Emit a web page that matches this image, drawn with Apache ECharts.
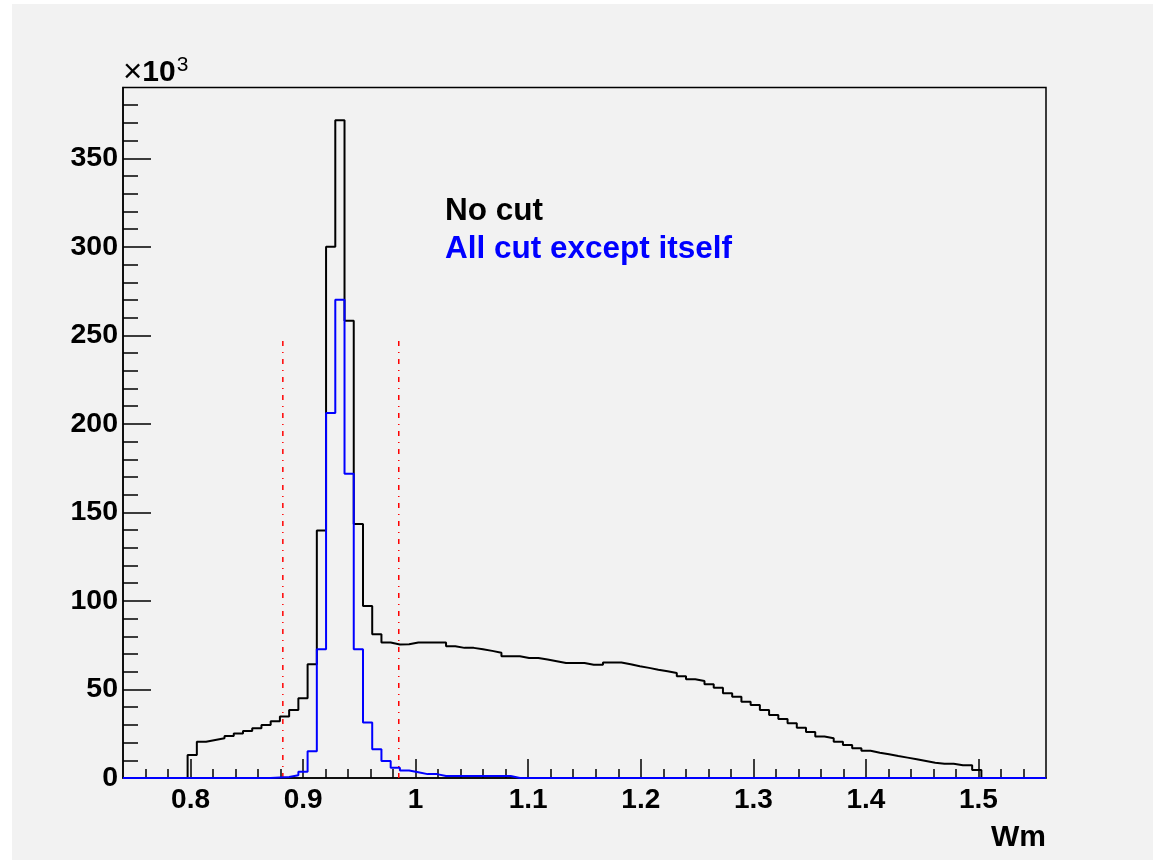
<!DOCTYPE html>
<html>
<head>
<meta charset="utf-8">
<script src="https://cdn.jsdelivr.net/npm/echarts@6/dist/echarts.min.js"></script>
<style>
  html, body { margin: 0; padding: 0; background: #ffffff; }
  #bg { position: absolute; left: 12px; top: 4px; width: 1141px; height: 856px; background: #f2f2f2; }
  #chart { position: absolute; left: 0; top: 0; width: 1153px; height: 860px; }
</style>
</head>
<body>
<div id="bg"></div>
<div id="chart"></div>
<script>
// ---- Histogram binning (100 bins) ----
const HIST_MIN = 0.74;
const HIST_MAX = 1.56;
const BIN_WIDTH = 0.0082;

// ---- Bin contents (x10^3 entries) ----
const noCut = [
  0, 0, 0, 0, 0, 0, 0, 13.0, 20.5, 21.5,
  22.4, 23.7, 25.2, 26.6, 28.1, 30.0, 32.0, 34.8, 38.4, 45.0,
  64.2, 139.8, 300.0, 371.5, 258.3, 143.5, 97.2, 81.2, 76.5, 75.4,
  75.5, 76.5, 76.5, 76.5, 76.5, 74.4, 73.5, 73.5, 72.7, 71.8,
  70.8, 68.8, 68.8, 67.8, 67.8, 66.9, 66.0, 65.0, 65.0, 65.0,
  64.0, 64.0, 65.2, 65.2, 64.2, 63.1, 62.2, 61.2, 60.3, 59.3,
  57.5, 55.8, 54.8, 52.9, 51.0, 47.8, 45.9, 43.1, 41.3, 38.4,
  35.6, 33.3, 30.9, 28.4, 26.0, 23.4, 22.4, 20.5, 18.6, 16.8,
  15.4, 14.3, 13.4, 12.4, 11.5, 10.6, 9.6, 8.6, 8.1, 8.1,
  7.2, 7.2, 4.5, 0, 0, 0, 0, 0, 0, 0
];
const allCutExceptItself = [
  0, 0, 0, 0, 0, 0, 0, 0, 0, 0,
  0, 0, 0, 0, 0, 0, 0.3, 0.6, 1.5, 3.6,
  15.1, 72.7, 206.1, 270.1, 171.8, 72.7, 31.3, 16.2, 9.6, 5.8,
  4.2, 3.3, 2.2, 2.2, 1.1, 1.1, 1.1, 1.1, 1.1, 1.1,
  1.1, 1.1, 0, 0, 0, 0, 0, 0, 0, 0,
  0, 0, 0, 0, 0, 0, 0, 0, 0, 0,
  0, 0, 0, 0, 0, 0, 0, 0, 0, 0,
  0, 0, 0, 0, 0, 0, 0, 0, 0, 0,
  0, 0, 0, 0, 0, 0, 0, 0, 0, 0,
  0, 0, 0, 0, 0, 0, 0, 0, 0, 0
];

// ---- Cut lines ----
const cutPositions = [0.882, 0.985];
const cutLineTop = 250;

// ---- Axes ticks / labels ----
const xMajorTicks = [0.8, 0.9, 1.0, 1.1, 1.2, 1.3, 1.4, 1.5];
const xMajorLabels = ['0.8', '0.9', '1', '1.1', '1.2', '1.3', '1.4', '1.5'];
const yMajorTicks = [0, 50, 100, 150, 200, 250, 300, 350];
const yMajorLabels = ['0', '50', '100', '150', '200', '250', '300', '350'];
const Y_MAX = 390;
const X_MINOR_STEP = 0.02;
const Y_MINOR_STEP = 10;

const xMinorTicks = [];
for (let k = 1; HIST_MIN + k * X_MINOR_STEP < HIST_MAX - 1e-9; k++) {
  const v = Math.round((HIST_MIN + k * X_MINOR_STEP) * 1000) / 1000;
  if (!xMajorTicks.some(m => Math.abs(m - v) < 1e-6)) xMinorTicks.push(v);
}
const yMinorTicks = [];
for (let v = Y_MINOR_STEP; v < Y_MAX; v += Y_MINOR_STEP) {
  if (v % 50 !== 0) yMinorTicks.push(v);
}

function histSteps(values) {
  const pts = values.map((v, i) => [HIST_MIN + i * BIN_WIDTH, v]);
  pts.push([HIST_MIN + values.length * BIN_WIDTH, values[values.length - 1]]);
  return pts;
}

const FONT = "'Liberation Sans', Arial, Helvetica, sans-serif";

const chart = echarts.init(document.getElementById('chart'), null, { renderer: 'canvas' });

const option = {
  animation: false,
  backgroundColor: 'transparent',
  textStyle: { fontFamily: FONT },
  grid: {
    left: 123, right: 107, top: 87.5, bottom: 82,
    show: true, borderColor: '#000', borderWidth: 1.5, backgroundColor: 'transparent'
  },
  legend: {
    show: true,
    orient: 'vertical',
    left: 435,
    top: 190,
    icon: 'none',
    itemWidth: 0,
    itemHeight: 20,
    itemGap: 6,
    selectedMode: false,
    textStyle: { fontFamily: FONT, fontSize: 31.5, fontWeight: 'bold' },
    data: [
      { name: 'No cut', textStyle: { color: '#000000' } },
      { name: 'All cut except itself', textStyle: { color: '#0000ff' } }
    ]
  },
  xAxis: [
    {
      type: 'value', min: HIST_MIN, max: HIST_MAX, position: 'bottom',
      name: 'Wm', nameLocation: 'end', nameGap: 0,
      nameTextStyle: { fontFamily: FONT, fontSize: 30, fontWeight: 'bold', color: '#000',
        align: 'right', verticalAlign: 'top', padding: [45, 0, 0, 0] },
      axisLine: { show: true, lineStyle: { color: '#000', width: 1.5 } },
      axisTick: { show: true, inside: true, length: 19, customValues: xMajorTicks, lineStyle: { color: '#000', width: 1.5 } },
      axisLabel: {
        show: true, customValues: xMajorTicks, margin: 8,
        fontFamily: FONT, fontSize: 28, fontWeight: 'bold', color: '#000',
        formatter: v => {
          const i = xMajorTicks.findIndex(m => Math.abs(m - v) < 1e-6);
          return i >= 0 ? xMajorLabels[i] : '';
        }
      },
      splitLine: { show: false }
    },
    {
      type: 'value', min: HIST_MIN, max: HIST_MAX, position: 'bottom',
      axisLine: { show: false },
      axisTick: { show: true, inside: true, length: 9, customValues: xMinorTicks, lineStyle: { color: '#000', width: 1.5 } },
      axisLabel: { show: false },
      splitLine: { show: false }
    }
  ],
  yAxis: [
    {
      type: 'value', min: 0, max: Y_MAX, position: 'left',
      name: '{a|×}{b|10}{c|3}', nameLocation: 'end', nameGap: -3,
      nameTextStyle: {
        align: 'left', verticalAlign: 'bottom', color: '#000',
        rich: {
          a: { fontFamily: FONT, fontSize: 33, fontWeight: 'normal', color: '#000' },
          b: { fontFamily: FONT, fontSize: 30, fontWeight: 'bold', color: '#000' },
          c: { fontFamily: FONT, fontSize: 21, fontWeight: 'normal', color: '#000', padding: [0, 0, 15, 1] }
        }
      },
      axisLine: { show: true, lineStyle: { color: '#000', width: 1.5 } },
      axisTick: { show: true, inside: true, length: 28, customValues: yMajorTicks, lineStyle: { color: '#000', width: 1.5 } },
      axisLabel: {
        show: true, customValues: yMajorTicks, margin: 5,
        fontFamily: FONT, fontSize: 28.5, fontWeight: 'bold', color: '#000',
        formatter: v => {
          const i = yMajorTicks.findIndex(m => Math.abs(m - v) < 1e-6);
          return i >= 0 ? yMajorLabels[i] : '';
        }
      },
      splitLine: { show: false }
    },
    {
      type: 'value', min: 0, max: Y_MAX, position: 'left',
      axisLine: { show: false },
      axisTick: { show: true, inside: true, length: 15, customValues: yMinorTicks, lineStyle: { color: '#000', width: 1.5 } },
      axisLabel: { show: false },
      splitLine: { show: false }
    }
  ],
  series: [
    {
      name: 'No cut', type: 'line', step: 'end', showSymbol: false, symbol: 'none',
      xAxisIndex: 0, yAxisIndex: 0,
      lineStyle: { color: '#000000', width: 2 },
      itemStyle: { color: '#000000' },
      data: histSteps(noCut), z: 3
    },
    {
      name: 'All cut except itself', type: 'line', step: 'end', showSymbol: false, symbol: 'none',
      xAxisIndex: 0, yAxisIndex: 0,
      lineStyle: { color: '#0000ff', width: 2 },
      itemStyle: { color: '#0000ff' },
      data: histSteps(allCutExceptItself), z: 4
    },
    ...cutPositions.map((c, i) => ({
      name: 'cut' + i, type: 'line', showSymbol: false, symbol: 'none',
      xAxisIndex: 0, yAxisIndex: 0,
      lineStyle: { color: '#ff0000', width: 1.5, type: [5, 6, 1, 6] },
      data: [[c, 0], [c, cutLineTop]], z: 2
    }))
  ]
};
chart.setOption(option);
</script>
</body>
</html>
